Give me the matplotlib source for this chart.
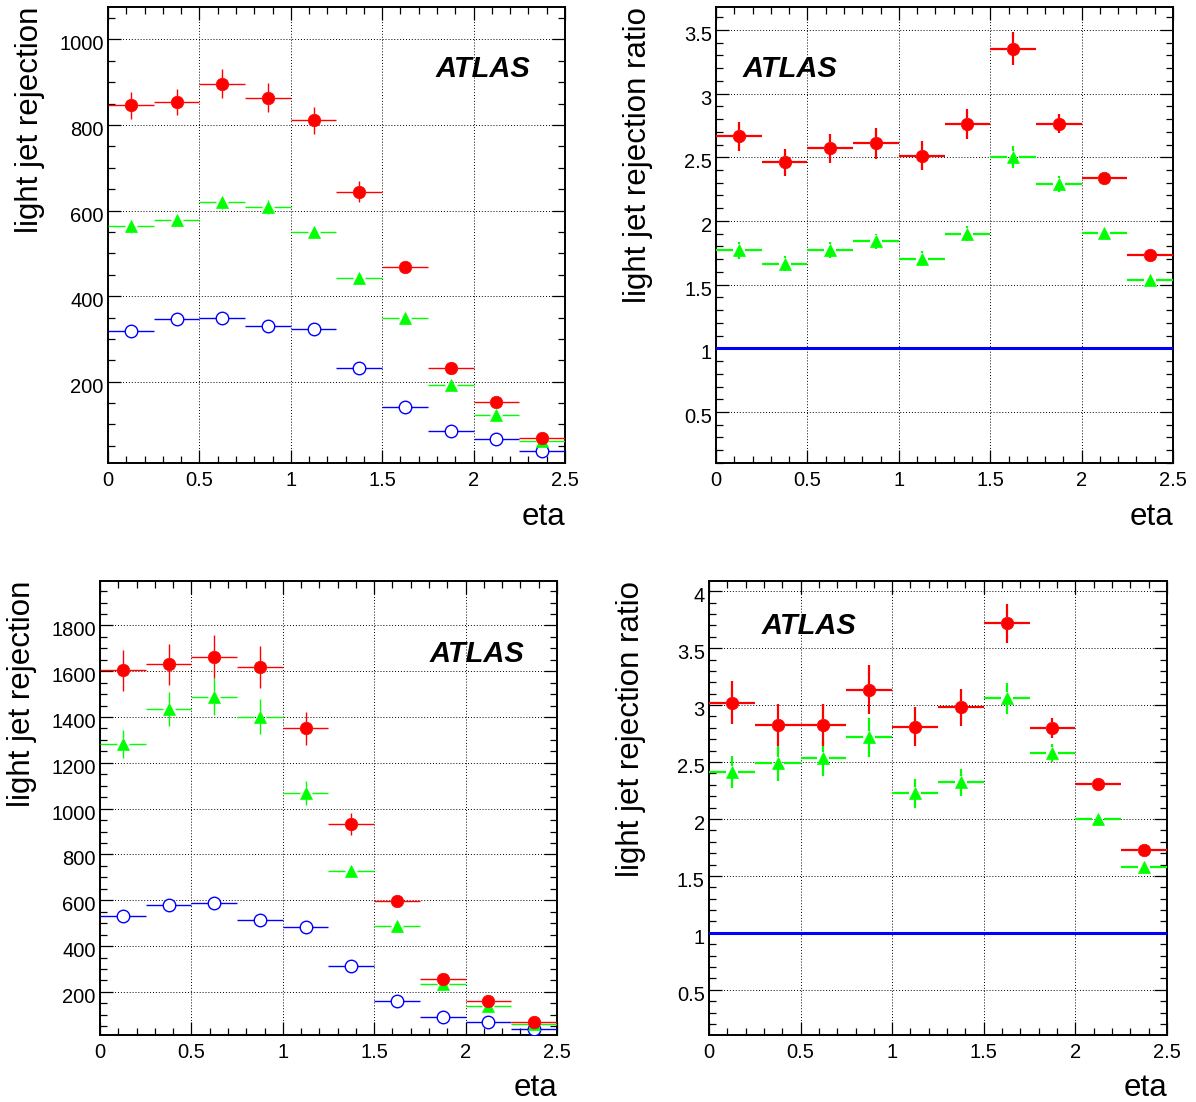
import numpy as np
import matplotlib
matplotlib.use("Agg")
import matplotlib.pyplot as plt
import matplotlib.transforms as mtransforms
from matplotlib.ticker import MultipleLocator, FixedLocator

plt.rcParams['font.family'] = ['Liberation Sans', 'DejaVu Sans']

# eta bins
eta = [0.125, 0.375, 0.625, 0.875, 1.125, 1.375, 1.625, 1.875, 2.125, 2.375]
eta_halfwidth = 0.125
x_ticks = [0, 0.5, 1, 1.5, 2, 2.5]
x_tick_labels = ["0", "0.5", "1", "1.5", "2", "2.5"]

# top left: light jet rejection
rej_a_red = [846, 854, 897, 864, 811, 644, 469, 232, 152, 68]
rej_a_red_err = [31, 30, 33, 34, 31, 24, 5, 3, 3, 2]
rej_a_green = [563, 578, 619, 609, 550, 443, 350, 193, 123, 61]
rej_a_green_err = [15, 14, 16, 16, 14, 9, 5, 3, 2, 2]
rej_a_blue = [318, 347, 349, 331, 323, 233, 140, 85, 65, 39]
rej_a_blue_err = [4, 4, 4, 4, 4, 3, 2, 1, 1, 1]
rej_a_yticks = [200, 400, 600, 800, 1000]

# top right: rejection ratio
ratio_a_red = [2.665, 2.461, 2.572, 2.610, 2.513, 2.760, 3.351, 2.762, 2.334, 1.732]
ratio_a_red_err = [0.114, 0.105, 0.114, 0.12, 0.113, 0.117, 0.13, 0.075, 0.03, 0.01]
ratio_a_green = [1.770, 1.664, 1.772, 1.840, 1.704, 1.900, 2.499, 2.290, 1.908, 1.536]
ratio_a_green_err = [0.065, 0.06, 0.06, 0.06, 0.06, 0.06, 0.087, 0.06, 0.02, 0.01]
ratio_a_yticks = [0.5, 1, 1.5, 2, 2.5, 3, 3.5]

# bottom left: light jet rejection
rej_b_red = [1604, 1630, 1663, 1619, 1351, 934, 595, 257, 161, 70]
rej_b_red_err = [89, 90, 93, 93, 72, 47, 8, 5, 4, 3]
rej_b_green = [1282, 1435, 1488, 1402, 1069, 730, 488, 235, 137, 61]
rej_b_green_err = [62, 75, 81, 76, 53, 18, 6, 5, 3, 2]
rej_b_blue = [531, 578, 589, 516, 482, 314, 161, 92, 69, 39]
rej_b_blue_err = [6, 6, 6, 6, 5, 4, 2, 1, 1, 1]
rej_b_yticks = [200, 400, 600, 800, 1000, 1200, 1400, 1600, 1800]

# bottom right: rejection ratio
ratio_b_red = [3.021, 2.827, 2.827, 3.136, 2.812, 2.979, 3.718, 2.797, 2.303, 1.724]
ratio_b_red_err = [0.188, 0.183, 0.185, 0.212, 0.174, 0.165, 0.174, 0.088, 0.02, 0.01]
ratio_b_green = [2.415, 2.491, 2.536, 2.718, 2.224, 2.324, 3.058, 2.579, 1.997, 1.579]
ratio_b_green_err = [0.14, 0.155, 0.163, 0.17, 0.13, 0.118, 0.133, 0.082, 0.01, 0.01]
ratio_b_yticks = [0.5, 1, 1.5, 2, 2.5, 3, 3.5, 4]

reference_ratio = 1.0

fig = plt.figure(figsize=(11.96, 11.02), dpi=100)


def setup_axes(rect, ylim, yticks, yminor, ylabel, atlas_x, atlas_y):
    ax = fig.add_axes(rect)
    ax.set_xlim(0, 2.5)
    ax.set_ylim(*ylim)
    ax.xaxis.set_major_locator(FixedLocator(x_ticks))
    ax.set_xticklabels(x_tick_labels)
    ax.xaxis.set_minor_locator(MultipleLocator(0.1))
    ax.set_yticks(yticks)
    ax.set_yticklabels([f"{v:g}" for v in yticks])
    ax.yaxis.set_minor_locator(MultipleLocator(yminor))
    ax.tick_params(which='both', direction='in', top=True, right=True,
                   width=0.9, labelsize=14.5, color='black')
    ax.tick_params(which='major', length=9.4)
    ax.tick_params(which='minor', length=4.7)
    ax.tick_params(axis='x', pad=6)
    ax.tick_params(axis='y', pad=3)
    for sp in ax.spines.values():
        sp.set_linewidth(1.4)
    ax.set_axisbelow(True)
    ax.grid(True, which='major', linestyle=(0, (1, 2)), color='black', linewidth=0.7)
    ax.text(-0.171, 1.0, ylabel, transform=ax.transAxes, rotation=90,
            ha='center', va='top', fontsize=22.5)
    ax.text(1.0, -0.135, "eta", transform=ax.transAxes, ha='right',
            va='baseline', fontsize=22.5)
    ax.text(atlas_x, atlas_y, "ATLAS", transform=ax.transAxes, ha='center',
            va='baseline', fontsize=21, fontweight='bold', fontstyle='italic')
    shift = mtransforms.ScaledTranslation(0, -2.5 / 72, fig.dpi_scale_trans)
    for lab in ax.get_yticklabels():
        lab.set_transform(lab.get_transform() + shift)
    return ax


def draw_points(ax, y, yerr, color, marker, lw, ms=9, filled=True, gap_px=6):
    # ROOT style: error lines stop at the marker edge
    x = np.array(eta)
    y = np.array(y, dtype=float)
    e = np.array(yerr, dtype=float)
    x0, x1 = ax.get_xlim()
    y0, y1 = ax.get_ylim()
    bb = ax.get_window_extent()
    gx = gap_px * (x1 - x0) / bb.width
    gy = gap_px * (y1 - y0) / bb.height
    ax.hlines(y, x - eta_halfwidth, x - gx, color=color, lw=lw, zorder=3)
    ax.hlines(y, x + gx, x + eta_halfwidth, color=color, lw=lw, zorder=3)
    m = e > gy
    ax.vlines(x[m], y[m] + gy, y[m] + e[m], color=color, lw=lw, zorder=3)
    ax.vlines(x[m], y[m] - e[m], y[m] - gy, color=color, lw=lw, zorder=3)
    if filled:
        ax.plot(x, y, linestyle='none', marker=marker, ms=ms, mfc=color,
                mec=color, mew=0.5, zorder=4)
    else:
        ax.plot(x, y, linestyle='none', marker=marker, ms=ms, mfc='white',
                mec=color, mew=1.0, zorder=4)


ax1 = setup_axes([0.0903, 0.5799, 0.3821, 0.4138], (10, 1076), rej_a_yticks, 50,
                 "light jet rejection", 0.820, 0.846)
draw_points(ax1, rej_a_blue, rej_a_blue_err, 'blue', 'o', 1.0, filled=False)
draw_points(ax1, rej_a_green, rej_a_green_err, '#00ff00', '^', 1.0)
draw_points(ax1, rej_a_red, rej_a_red_err, 'red', 'o', 1.0)

ax2 = setup_axes([0.5987, 0.5799, 0.3821, 0.4138], (0.10, 3.68), ratio_a_yticks, 0.1,
                 "light jet rejection ratio", 0.162, 0.846)
ax2.axhline(reference_ratio, color='blue', lw=2.2, zorder=3)
draw_points(ax2, ratio_a_green, ratio_a_green_err, '#00ff00', '^', 1.6)
draw_points(ax2, ratio_a_red, ratio_a_red_err, 'red', 'o', 1.6)

ax3 = setup_axes([0.0836, 0.0608, 0.3821, 0.4120], (12, 1994), rej_b_yticks, 50,
                 "light jet rejection", 0.825, 0.821)
draw_points(ax3, rej_b_blue, rej_b_blue_err, 'blue', 'o', 1.0, filled=False)
draw_points(ax3, rej_b_green, rej_b_green_err, '#00ff00', '^', 1.0)
draw_points(ax3, rej_b_red, rej_b_red_err, 'red', 'o', 1.0)

ax4 = setup_axes([0.5928, 0.0608, 0.3829, 0.4120], (0.103, 4.09), ratio_b_yticks, 0.1,
                 "light jet rejection ratio", 0.218, 0.884)
ax4.axhline(reference_ratio, color='blue', lw=2.2, zorder=3)
draw_points(ax4, ratio_b_green, ratio_b_green_err, '#00ff00', '^', 1.6)
draw_points(ax4, ratio_b_red, ratio_b_red_err, 'red', 'o', 1.6)

fig.savefig("out.png", dpi=100)
